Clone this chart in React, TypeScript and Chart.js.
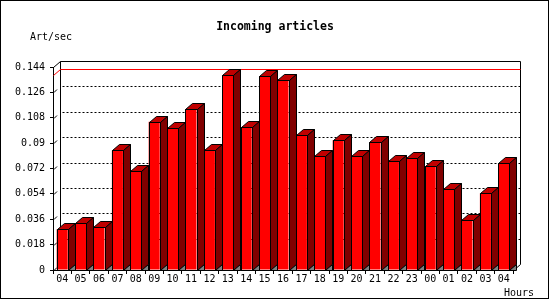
import React, { useEffect, useRef } from "react";
import { Chart, registerables } from "chart.js";

Chart.register(...registerables);

const hours = ["04", "05", "06", "07", "08", "09", "10", "11", "12", "13", "14", "15", "16", "17", "18", "19", "20", "21", "22", "23", "00", "01", "02", "03", "04"];
const artPerSec = [0.0289, 0.0331, 0.0303, 0.0848, 0.07, 0.1052, 0.1005, 0.114, 0.0848, 0.1381, 0.1012, 0.1374, 0.1348, 0.0958, 0.0806, 0.092, 0.0806, 0.0905, 0.0771, 0.0792, 0.0738, 0.0572, 0.0352, 0.0544, 0.0757];
const yTickValues = [0, 0.018, 0.036, 0.054, 0.072, 0.09, 0.108, 0.126, 0.144];
const yTickLabels = ["0", "0.018", "0.036", "0.054", "0.072", "0.09", "0.108", "0.126", "0.144"];
const titleText = "Incoming articles";
const yAxisTitle = "Art/sec";
const xAxisTitle = "Hours";

const DX = 7;
const DY = 6;
const MONO = "'DejaVu Sans Mono', monospace";

const r = (v: number) => Math.round(v) + 0.5;

function poly(ctx: CanvasRenderingContext2D, pts: number[][], fill: string) {
  ctx.beginPath();
  ctx.moveTo(pts[0][0], pts[0][1]);
  for (let i = 1; i < pts.length; i++) ctx.lineTo(pts[i][0], pts[i][1]);
  ctx.closePath();
  ctx.fillStyle = fill;
  ctx.fill();
  ctx.stroke();
}

const threeD = {
  id: "threeD",
  beforeDatasetsDraw(chart: any) {
    const { ctx, chartArea: a, scales } = chart;
    const y = scales.y;
    const yMax = yTickValues[yTickValues.length - 1];
    ctx.save();
    ctx.lineWidth = 1;
    ctx.strokeStyle = "#000";
    const bl = r(a.left + DX), br = r(a.right + DX);
    const bt = r(y.getPixelForValue(yMax) - DY), bb = r(a.bottom - DY);
    // dotted back gridlines
    ctx.setLineDash([2, 2]);
    yTickValues.forEach((v) => {
      if (v === 0 || v === yMax) return;
      const py = r(y.getPixelForValue(v) - DY);
      ctx.beginPath();
      ctx.moveTo(bl + 2, py);
      ctx.lineTo(br, py);
      ctx.stroke();
    });
    ctx.setLineDash([]);
    // short depth marks at each tick
    yTickValues.forEach((v) => {
      if (v === yMax) return;
      const py = Math.round(y.getPixelForValue(v));
      ctx.beginPath();
      ctx.moveTo(a.left + 1, py + 0.5);
      ctx.lineTo(a.left + 4, py - 2.5);
      ctx.stroke();
    });
    // back frame
    ctx.beginPath();
    ctx.moveTo(bl, bb);
    ctx.lineTo(bl, bt);
    ctx.lineTo(br, bt);
    ctx.lineTo(br, bb);
    ctx.stroke();
    // depth edges
    ctx.beginPath();
    ctx.moveTo(r(a.left), r(y.getPixelForValue(yMax)));
    ctx.lineTo(bl, bt);
    ctx.moveTo(r(a.right), r(a.bottom));
    ctx.lineTo(br, bb);
    ctx.stroke();
    // red max line
    const maxV = Math.max(...artPerSec);
    const ym = y.getPixelForValue(maxV);
    ctx.strokeStyle = "#ff0000";
    ctx.beginPath();
    ctx.moveTo(r(a.left), r(ym));
    ctx.lineTo(bl, r(ym - DY));
    ctx.lineTo(br, r(ym - DY));
    ctx.stroke();
    ctx.restore();
  },
  afterDatasetsDraw(chart: any) {
    const { ctx } = chart;
    const meta = chart.getDatasetMeta(0);
    ctx.save();
    ctx.lineWidth = 1;
    ctx.strokeStyle = "#000";
    meta.data.forEach((bar: any) => {
      const p = bar.getProps(["x", "y", "base", "width"], true);
      const x0 = r(p.x - p.width / 2), x1 = r(p.x + p.width / 2);
      const top = r(p.y), base = r(p.base);
      poly(ctx, [[x0, top], [x0 + DX, top - DY], [x1 + DX, top - DY], [x1, top]], "#c00000");
      poly(ctx, [[x1, top], [x1 + DX, top - DY], [x1 + DX, base - DY], [x1, base]], "#800000");
      poly(ctx, [[x1, base], [x1 + DX, base - DY], [x1 + DX, base]], "#808080");
      // crisp front outline
      ctx.beginPath();
      ctx.rect(x0, top, x1 - x0, base - top);
      ctx.stroke();
    });
    ctx.restore();
  },
  afterDraw(chart: any) {
    const { ctx } = chart;
    ctx.save();
    ctx.fillStyle = "#000";
    ctx.textBaseline = "middle";
    ctx.font = "bold 11.5px " + MONO;
    ctx.textAlign = "center";
    ctx.fillText(titleText, 275, 27);
    ctx.font = "10px " + MONO;
    ctx.textAlign = "left";
    ctx.fillText(yAxisTitle, 30, 37);
    ctx.textAlign = "right";
    ctx.fillText(xAxisTitle, 534, 293);
    ctx.fillRect(0, 0, 549, 1);
    ctx.fillRect(0, 0, 1, 299);
    ctx.fillRect(548, 0, 1, 299);
    ctx.fillRect(0, 298, 549, 1);
    ctx.restore();
  },
};

export default function App() {
  const ref = useRef<HTMLCanvasElement | null>(null);
  useEffect(() => {
    document.body.style.margin = "0";
    const canvas = ref.current!;
    const chart = new Chart(canvas, {
      type: "bar",
      data: {
        labels: hours,
        datasets: [
          {
            data: artPerSec,
            backgroundColor: "#ff0000",
            borderColor: "#000",
            borderWidth: 0,
            barPercentage: 0.6,
            categoryPercentage: 1.0,
          },
        ],
      },
      options: {
        responsive: false,
        animation: false,
        events: [],
        layout: { padding: { top: 67, right: 37, left: 0, bottom: 0 } },
        plugins: {
          legend: { display: false },
          tooltip: { enabled: false },
          title: { display: false },
        },
        scales: {
          x: {
            offset: true,
            grid: { offset: true, drawOnChartArea: false, drawTicks: true, tickLength: 4, color: "#000" },
            border: { display: true, color: "#000" },
            ticks: { autoSkip: false, maxRotation: 0, color: "#000", padding: -1, font: { family: MONO, size: 10 } },
            afterFit: (s: any) => { s.height = 30; },
          },
          y: {
            min: 0,
            max: 0.144,
            afterBuildTicks: (s: any) => { s.ticks = yTickValues.map((v) => ({ value: v })); },
            grid: { drawOnChartArea: false, drawTicks: true, tickLength: 3, color: "#000" },
            border: { display: true, color: "#000" },
            ticks: {
              color: "#000",
              padding: 5,
              font: { family: MONO, size: 10 },
              callback: (v: any, i: number) => yTickLabels[i] ?? String(v),
            },
            afterFit: (s: any) => { s.width = 53; },
          },
        },
      },
      plugins: [threeD],
    });
    return () => chart.destroy();
  }, []);
  return (
    <div style={{ position: "absolute", left: 0, top: 0, width: 550, height: 300, background: "#fff" }}>
      <canvas ref={ref} width={550} height={300} style={{ display: "block", width: 550, height: 300 }} />
    </div>
  );
}
